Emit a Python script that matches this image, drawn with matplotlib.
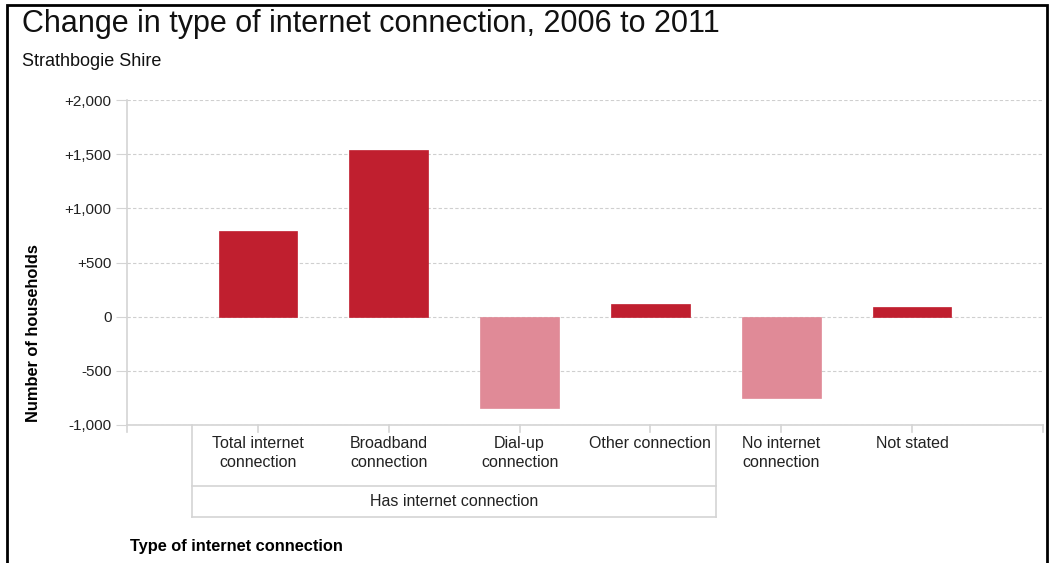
import numpy as np
import matplotlib.pyplot as plt
import matplotlib.transforms as mtransforms
from matplotlib.patches import Rectangle

plt.rcParams['font.family'] = ['Liberation Sans', 'DejaVu Sans']

categories = ['Total internet\nconnection', 'Broadband\nconnection', 'Dial-up\nconnection',
              'Other connection', 'No internet\nconnection', 'Not stated']
changes = [795, 1535, -840, 120, -748, 92]
group_label = 'Has internet connection'
group_span = (0, 3)  # first and last category in the group
yticks = [-1000, -500, 0, 500, 1000, 1500, 2000]
ytick_labels = ['-1,000', '-500', '0', '+500', '+1,000', '+1,500', '+2,000']

pos_color = '#c01f2f'
neg_color = '#e08a97'
line_grey = '#d4d4d4'

fig = plt.figure(figsize=(10.49, 5.63), dpi=100)
W, H = 1049, 563
ax = fig.add_axes([127 / W, 138 / H, 916 / W, 325 / H])

x = np.arange(len(categories))
colors = [pos_color if v >= 0 else neg_color for v in changes]
ax.bar(x, changes, width=0.6, color=colors, edgecolor=colors, linewidth=0.5, zorder=3)

ax.set_xlim(-1, len(categories))
ax.set_ylim(-1000, 2000)
ax.set_yticks(yticks)
ax.set_yticklabels(ytick_labels, fontsize=11, color='#222222')
ax.tick_params(axis='y', length=8, color=line_grey, pad=3)
ax.set_xticks([])
ax.grid(axis='y', linestyle=(0, (3, 2)), color='#cfcfcf', linewidth=0.8, zorder=0)

for s in ['top', 'right']:
    ax.spines[s].set_visible(False)
ax.spines['left'].set_color(line_grey)
ax.spines['bottom'].set_color(line_grey)
ax.spines['left'].set_linewidth(1.2)
ax.spines['bottom'].set_linewidth(1.2)

# category axis drawn below the plot: ticks, labels and group box
tr = mtransforms.blended_transform_factory(ax.transData, ax.transAxes)
tick_len = -0.022
for xi in list(x) + [-1, len(categories)]:
    ax.plot([xi, xi], [0, tick_len], transform=tr, color=line_grey, lw=1.2, clip_on=False)

g0, g1 = group_span[0] - 0.5, group_span[1] + 0.5
box_mid, box_bot = -0.188, -0.283
for xi in (g0, g1):
    ax.plot([xi, xi], [0, box_bot], transform=tr, color=line_grey, lw=1.2, clip_on=False)
for yy in (box_mid, box_bot):
    ax.plot([g0, g1], [yy, yy], transform=tr, color=line_grey, lw=1.2, clip_on=False)

for xi, lab in zip(x, categories):
    ax.text(xi, -0.034, lab, transform=tr, ha='center', va='top', fontsize=11.5,
            color='#222222', linespacing=1.3)
ax.text((g0 + g1) / 2, -0.236, group_label, transform=tr, ha='center', va='center',
        fontsize=11.5, color='#222222')

ax.set_ylabel('Number of households', fontsize=11.8, fontweight='bold')
ax.yaxis.set_label_coords(-0.094, 0.284)

fig.text(130 / W, 1 - 546 / H, 'Type of internet connection', fontsize=11.8,
         fontweight='bold', ha='left', va='center')
fig.text(22 / W, 1 - 24 / H, 'Change in type of internet connection, 2006 to 2011',
         fontsize=22, ha='left', va='center', color='#111111')
fig.text(22 / W, 1 - 61 / H, 'Strathbogie Shire', fontsize=13, ha='left',
         va='center', color='#111111')

# outer frame
fig.patches.append(Rectangle((7 / W, -0.05), 1040 / W, 1 - 5 / H + 0.05,
                             transform=fig.transFigure, fill=False,
                             edgecolor='black', linewidth=2))

fig.savefig('out.png', dpi=100)
